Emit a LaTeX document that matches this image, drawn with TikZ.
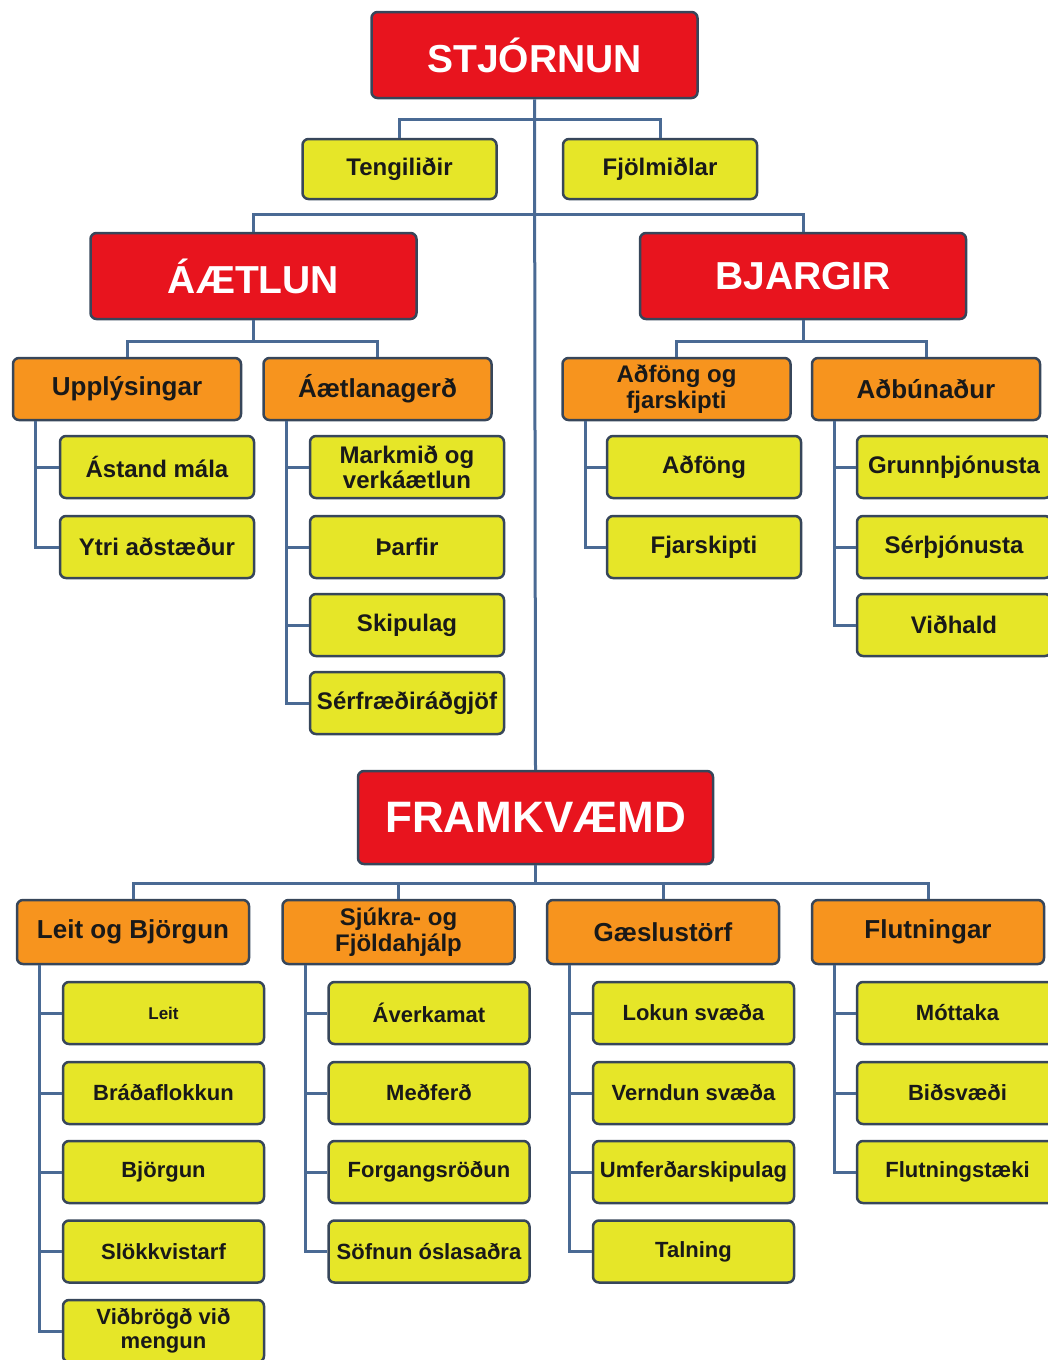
\documentclass[tikz,border=0pt]{standalone}
\usepackage{fontspec}
\setmainfont{Liberation Sans}
\usepackage{xcolor}
\definecolor{boxred}{HTML}{E8141E}
\definecolor{boxorange}{HTML}{F7941E}
\definecolor{boxyellow}{HTML}{E6E628}
\definecolor{boxedge}{HTML}{37465A}
\definecolor{linkblue}{HTML}{4A6A94}
\tikzstyle{box}=[draw=boxedge, line width=2.5pt, rounded corners=6pt, inner sep=0pt, align=center]
\tikzstyle{redbox}=[box, fill=boxred, text=white, minimum width=326pt, minimum height=86pt, font=\bfseries\fontsize{39}{42}\selectfont]
\tikzstyle{orangebox}=[box, fill=boxorange, text=black!90, minimum width=228pt, minimum height=62pt, font=\bfseries\fontsize{26}{26}\selectfont]
\tikzstyle{yellowbox}=[box, fill=boxyellow, text=black!90, minimum width=194pt, minimum height=62pt, font=\bfseries\fontsize{24}{25}\selectfont]
\tikzstyle{smallbox}=[yellowbox, minimum width=201pt, font=\bfseries\fontsize{22}{24}\selectfont]
\tikzstyle{link}=[draw=linkblue, line width=3pt]
\newcommand{\rbox}{\node[redbox]}
\newcommand{\obox}{\node[orangebox]}
\newcommand{\ybox}{\node[yellowbox]}
\newcommand{\lbox}{\node[smallbox]}
\begin{document}
\begin{tikzpicture}[x=1pt,y=-1pt]
\useasboundingbox (0,0) rectangle (1047,1360);
% top level
\rbox (stj) at (534.5,55) {STJÓRNUN};
\ybox (teng) at (399.5,169) [minimum height=60pt]{Tengiliðir};
\ybox (fjol) at (660,169) [minimum height=60pt]{Fjölmiðlar};
\rbox (aet) at (253.5,276) {ÁÆTLUN};
\rbox (bja) at (803,276) {BJARGIR};
\rbox (fram) at (535.5,817.5) [minimum width=355pt, minimum height=93pt, font=\bfseries\fontsize{44}{46}\selectfont]{FRAMKVÆMD};
% planning
\obox (upp) at (127,389) {Upplýsingar};
\obox (aeg) at (377.5,389) {Áætlanagerð};
\ybox (ast) at (157,467) {Ástand mála};
\ybox (ytri) at (157,547) {Ytri aðstæður};
\ybox (mark) at (407,467) {Markmið og\\verkáætlun};
\ybox (thar) at (407,547) {Þarfir};
\ybox (skip) at (407,625) {Skipulag};
\ybox (serf) at (407,703) {Sérfræðiráðgjöf};
% resources
\obox (adf) at (676.5,389) [font=\bfseries\fontsize{24}{26}\selectfont]{Aðföng og\\fjarskipti};
\obox (adb) at (926,389) {Aðbúnaður};
\ybox (adfong) at (704,467) {Aðföng};
\ybox (fjar) at (704,547) {Fjarskipti};
\ybox (grunn) at (954,467) {Grunnþjónusta};
\ybox (serth) at (954,547) {Sérþjónusta};
\ybox (vidh) at (954,625) {Viðhald};
% operations
\obox (leit) at (133,932) [minimum width=232pt, minimum height=64pt]{Leit og Björgun};
\obox (sjuk) at (398.5,932) [minimum width=232pt, minimum height=64pt, font=\bfseries\fontsize{24}{26}\selectfont]{Sjúkra- og\\Fjöldahjálp};
\obox (gaes) at (663,932) [minimum width=232pt, minimum height=64pt]{Gæslustörf};
\obox (flut) at (928,932) [minimum width=232pt, minimum height=64pt]{Flutningar};
\lbox (l1) at (163.5,1013) [font=\bfseries\fontsize{17}{20}\selectfont]{Leit};
\lbox (l2) at (163.5,1093) {Bráðaflokkun};
\lbox (l3) at (163.5,1172) {Björgun};
\lbox (l4) at (163.5,1251.5) {Slökkvistarf};
\lbox (l5) at (163.5,1331) {Viðbrögð við\\mengun};
\lbox (s1) at (429,1013) {Áverkamat};
\lbox (s2) at (429,1093) {Meðferð};
\lbox (s3) at (429,1172) {Forgangsröðun};
\lbox (s4) at (429,1251.5) {Söfnun óslasaðra};
\lbox (g1) at (693.5,1013) {Lokun svæða};
\lbox (g2) at (693.5,1093) {Verndun svæða};
\lbox (g3) at (693.5,1172) {Umferðarskipulag};
\lbox (g4) at (693.5,1251.5) {Talning};
\lbox (f1) at (957.5,1013) {Móttaka};
\lbox (f2) at (957.5,1093) {Biðsvæði};
\lbox (f3) at (957.5,1172) {Flutningstæki};
% connectors
\draw[link] (stj.south) -- (fram.north);
\draw[link] (teng.north) |- ([yshift=-20pt]stj.south) -| (fjol.north);
\draw[link] (aet.north) |- ([yshift=-115pt]stj.south) -| (bja.north);
\draw[link] (aet.south) -- ++(0,21) (upp.north) |- ([yshift=-21pt]aet.south) -| (aeg.north);
\draw[link] (bja.south) -- ++(0,21) (adf.north) |- ([yshift=-21pt]bja.south) -| (adb.north);
\draw[link] (fram.south) -- ++(0,18) (leit.north) |- ([yshift=-18pt]fram.south) -| (flut.north);
\draw[link] (sjuk.north) |- ([yshift=-18pt]fram.south) -| (gaes.north);
\foreach \c in {ast,ytri} \draw[link] ([xshift=24pt]upp.south west) |- (\c.west);
\foreach \c in {mark,thar,skip,serf} \draw[link] ([xshift=24pt]aeg.south west) |- (\c.west);
\foreach \c in {adfong,fjar} \draw[link] ([xshift=24pt]adf.south west) |- (\c.west);
\foreach \c in {grunn,serth,vidh} \draw[link] ([xshift=24pt]adb.south west) |- (\c.west);
\foreach \c in {l1,l2,l3,l4,l5} \draw[link] ([xshift=24pt]leit.south west) |- (\c.west);
\foreach \c in {s1,s2,s3,s4} \draw[link] ([xshift=24pt]sjuk.south west) |- (\c.west);
\foreach \c in {g1,g2,g3,g4} \draw[link] ([xshift=24pt]gaes.south west) |- (\c.west);
\foreach \c in {f1,f2,f3} \draw[link] ([xshift=24pt]flut.south west) |- (\c.west);
\end{tikzpicture}
\end{document}
